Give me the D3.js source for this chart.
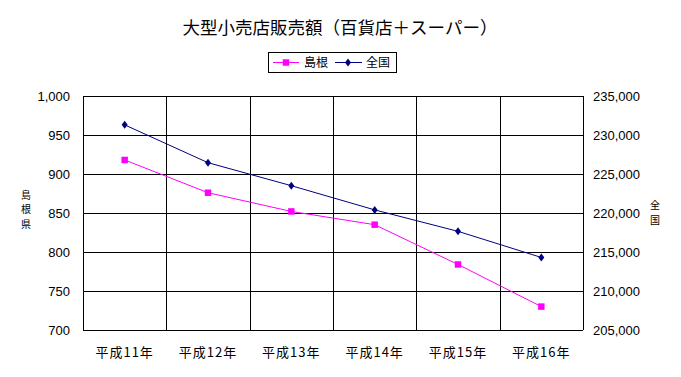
<!DOCTYPE html>
<html lang="ja">
<head>
<meta charset="utf-8">
<title>大型小売店販売額</title>
<script src="https://d3js.org/d3.v7.min.js"></script>
<style>
  body { margin: 0; background: #fff; }
  text { font-family: Arial, "Liberation Sans", "Noto Sans CJK JP", sans-serif; fill: #000; }
  .jp { font-family: "Noto Sans CJK JP", sans-serif; }
</style>
</head>
<body>
<script>
// data
var years = ["平成11年", "平成12年", "平成13年", "平成14年", "平成15年", "平成16年"];
var shimane = [918, 876, 852, 835, 784, 730];
var zenkoku = [231300, 226450, 223500, 220400, 217650, 214300];
var leftTicks = [700, 750, 800, 850, 900, 950, 1000];
var rightTicks = [205000, 210000, 215000, 220000, 225000, 230000, 235000];

var w = 681, h = 377;
var pL = 83, pR = 583, pT = 96, pB = 330;

var svg = d3.select("body").append("svg")
  .attr("width", w).attr("height", h);

var x = d3.scaleBand().domain(years).range([pL, pR]);
var yL = d3.scaleLinear().domain([700, 1000]).range([pB, pT]);
var yR = d3.scaleLinear().domain([205000, 235000]).range([pB, pT]);

// grid lines
svg.append("g").selectAll("line")
  .data(leftTicks)
  .join("line")
  .attr("x1", pL).attr("x2", pR)
  .attr("y1", d => Math.round(yL(d)) + 0.5)
  .attr("y2", d => Math.round(yL(d)) + 0.5)
  .attr("stroke", "#000");

svg.append("g").selectAll("line")
  .data(years.concat(["end"]))
  .join("line")
  .attr("x1", (d, i) => Math.round(pL + i * x.bandwidth()) + 0.5)
  .attr("x2", (d, i) => Math.round(pL + i * x.bandwidth()) + 0.5)
  .attr("y1", pT).attr("y2", pB)
  .attr("stroke", "#000");

// left axis labels
var fmt = d3.format(",");
svg.append("g").selectAll("text")
  .data(leftTicks)
  .join("text")
  .attr("x", 70).attr("y", d => yL(d) + 5)
  .attr("text-anchor", "end")
  .attr("font-size", 13)
  .text(d => fmt(d));

// right axis labels
svg.append("g").selectAll("text")
  .data(rightTicks)
  .join("text")
  .attr("x", 593).attr("y", d => yR(d) + 5)
  .attr("font-size", 13)
  .text(d => fmt(d));

// x labels
svg.append("g").selectAll("text")
  .data(years)
  .join("text")
  .attr("class", "jp")
  .attr("x", d => x(d) + x.bandwidth() / 2)
  .attr("y", 357)
  .attr("text-anchor", "middle")
  .attr("font-size", 13)
  .attr("letter-spacing", 1)
  .text(d => d);

// axis titles (stacked vertically, one char per tspan)
function vtitle(str, x0, y0) {
  var t = svg.append("text").attr("class", "jp")
    .attr("text-anchor", "middle").attr("font-size", 10);
  str.split("").forEach(function(c, i) {
    t.append("tspan").attr("x", x0).attr("y", y0 + i * 14.5).text(c);
  });
}
vtitle("島根県", 26, 198.5);
vtitle("全国", 655, 209);

// title
svg.append("text").attr("class", "jp")
  .attr("x", 340).attr("y", 34)
  .attr("text-anchor", "middle")
  .attr("font-size", 17.5)
  .text("大型小売店販売額（百貨店＋スーパー）");

// lines
var cx = d => x(d) + x.bandwidth() / 2;
var lineL = d3.line().x((d, i) => cx(years[i])).y(d => yL(d));
var lineR = d3.line().x((d, i) => cx(years[i])).y(d => yR(d));

svg.append("path").datum(shimane)
  .attr("d", lineL).attr("fill", "none")
  .attr("stroke", "#FF00FF").attr("stroke-width", 1);
svg.append("path").datum(zenkoku)
  .attr("d", lineR).attr("fill", "none")
  .attr("stroke", "#000080").attr("stroke-width", 1);

// markers
var square = d3.symbol().type(d3.symbolSquare).size(42);
var diamond = "M0,-4L3,0L0,4L-3,0Z";

svg.append("g").selectAll("path")
  .data(shimane)
  .join("path")
  .attr("d", square)
  .attr("transform", (d, i) => "translate(" + cx(years[i]) + "," + yL(d) + ")")
  .attr("fill", "#FF00FF");

svg.append("g").selectAll("path")
  .data(zenkoku)
  .join("path")
  .attr("d", diamond)
  .attr("transform", (d, i) => "translate(" + cx(years[i]) + "," + yR(d) + ")")
  .attr("fill", "#000080");

// legend
var lg = svg.append("g");
lg.append("rect").attr("x", 268.5).attr("y", 52.5).attr("width", 128).attr("height", 20)
  .attr("fill", "#fff").attr("stroke", "#000");
lg.append("line").attr("x1", 273).attr("x2", 299).attr("y1", 62.5).attr("y2", 62.5)
  .attr("stroke", "#FF00FF");
lg.append("path").attr("d", square).attr("transform", "translate(286,62.5)").attr("fill", "#FF00FF");
lg.append("text").attr("class", "jp").attr("x", 304).attr("y", 67).attr("font-size", 12).text("島根");
lg.append("line").attr("x1", 335).attr("x2", 362).attr("y1", 62.5).attr("y2", 62.5)
  .attr("stroke", "#000080");
lg.append("path").attr("d", diamond).attr("transform", "translate(348,62.5)").attr("fill", "#000080");
lg.append("text").attr("class", "jp").attr("x", 366).attr("y", 67).attr("font-size", 12).text("全国");
</script>
</body>
</html>
